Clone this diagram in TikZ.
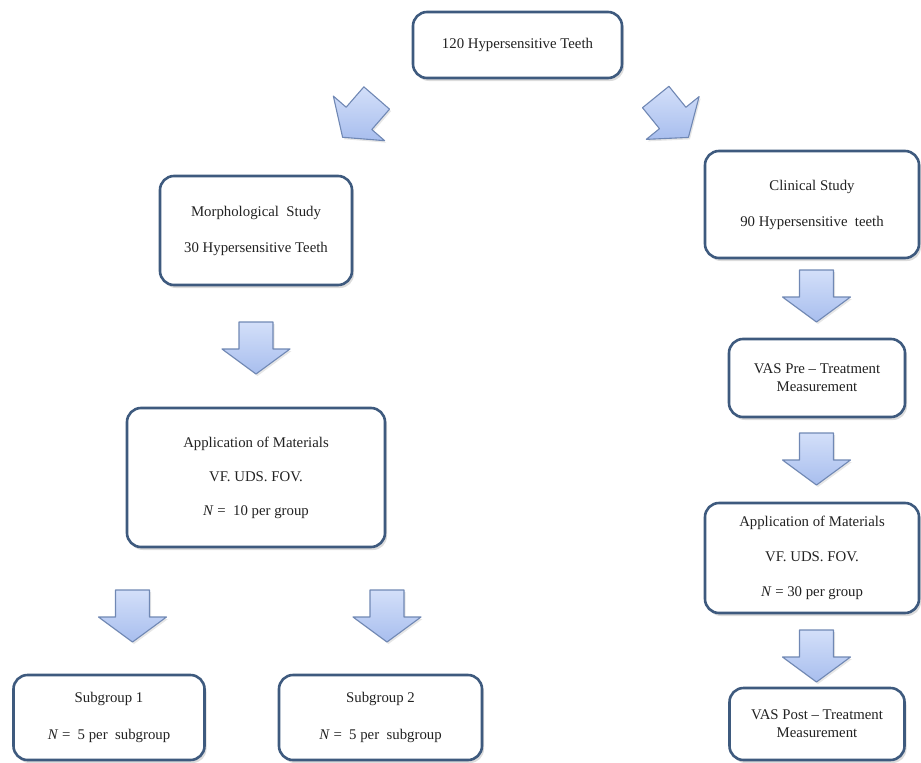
\documentclass[tikz,border=0pt]{standalone}
\usepackage{fontspec}
\setmainfont{Liberation Serif}
\usetikzlibrary{shadows}
\definecolor{boxline}{HTML}{3E5A7E}
\definecolor{arrline}{HTML}{7088B4}
\definecolor{arrtop}{HTML}{D3DFF9}
\definecolor{arrbot}{HTML}{A8BEEE}
\definecolor{txt}{HTML}{222222}
\tikzset{
  flowbox/.style={draw=boxline, line width=2.6pt, rounded corners=14pt, fill=white,
    drop shadow={opacity=0.28, shadow xshift=2pt, shadow yshift=-3pt},
    align=center, text=txt, inner sep=0pt,
    font=\fontsize{14.8}{18}\selectfont},
  blockarrow/.pic={
    \draw[draw=arrline, line width=1.1pt, line join=round, top color=arrtop, bottom color=arrbot,
      drop shadow={opacity=0.2, shadow xshift=1.5pt, shadow yshift=-2pt}]
      (-17,0) -- (17,0) -- (17,27) -- (34,27) -- (0,52) -- (-34,27) -- (-17,27) -- cycle;
  }
}
\begin{document}
\begin{tikzpicture}[x=1pt, y=-1pt]
\useasboundingbox (0,0) rectangle (921,763);

\node[flowbox, minimum width=209pt, minimum height=66pt] (top) at (517.5,45) {120 Hypersensitive Teeth};

\node[flowbox, minimum width=192pt, minimum height=109pt] (morph) at (256,230.5)
  {Morphological\ \ Study\\[18pt]30 Hypersensitive Teeth};
\node[flowbox, minimum width=214pt, minimum height=107pt] (clin) at (812,204.5)
  {Clinical Study\\[18pt]90 Hypersensitive\ \ teeth};

\node[flowbox, minimum width=176pt, minimum height=78pt] (vaspre) at (817,378)
  {VAS Pre -- Treatment\\Measurement};

\node[flowbox, minimum width=258pt, minimum height=139pt] (appl) at (256,477.5)
  {Application of Materials\\[16pt]VF. UDS. FOV.\\[16pt]\textit{N} =\ \ 10 per group};
\node[flowbox, minimum width=214pt, minimum height=110pt] (appr) at (812,558)
  {Application of Materials\\[17pt]VF. UDS. FOV.\\[17pt]\textit{N} = 30 per group};

\node[flowbox, minimum width=191pt, minimum height=85pt] (sub1) at (109,717.5)
  {Subgroup 1\\[19pt]\textit{N} =\ \ 5 per\ \ subgroup};
\node[flowbox, minimum width=203pt, minimum height=85pt] (sub2) at (380.5,717.5)
  {Subgroup 2\\[19pt]\textit{N} =\ \ 5 per\ \ subgroup};

\node[flowbox, minimum width=175pt, minimum height=72pt] (vaspost) at (817,724)
  {VAS Post -- Treatment\\Measurement};

% block arrows
\pic[rotate=-41] at (376.7,98) {blockarrow};
\pic[rotate=39] at (655.7,97) {blockarrow};
\pic at (256,322) {blockarrow};
\pic at (816.5,270) {blockarrow};
\pic at (816.5,433) {blockarrow};
\pic at (816.5,630) {blockarrow};
\pic at (132.5,590) {blockarrow};
\pic at (387,590) {blockarrow};
\end{tikzpicture}
\end{document}
